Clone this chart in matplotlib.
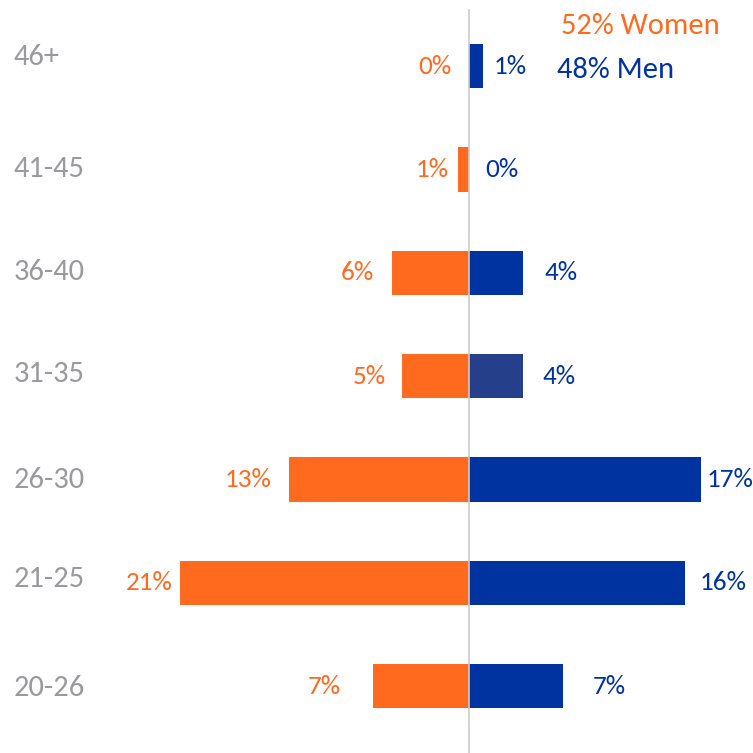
import matplotlib
matplotlib.use("Agg")
import matplotlib.pyplot as plt
import matplotlib.transforms as mtransforms

# age groups, bottom row first
age_groups = ["20-26", "21-25", "26-30", "31-35", "36-40", "41-45", "46+"]
women_pct = [7.0, 21.0, 13.1, 4.9, 5.6, 0.8, 0.0]
men_pct = [6.8, 15.7, 16.9, 3.9, 3.9, 0.0, 1.0]
legend_labels = ["52% Women", "48% Men"]

# label gaps from the bar ends (pixels), as placed in the original
women_gap = [32, 8, 17, 16, 18, 9, 17]
men_gap = [30, 15, 5, 20, 22, 16, 11]
label_dy = [-2, 4, -1, 2, 1, 0, 9]

ORANGE = "#FF6A1F"
BLUE = "#0033A0"
BLUE_ODD = "#253F8A"
GREY = "#9A9A9E"

plt.rcParams['font.family'] = ['Carlito', 'Lato', 'DejaVu Sans']

fig = plt.figure(figsize=(7.53, 7.53), dpi=100)
ax = fig.add_axes([0, 0, 1, 1])

ypos = list(range(len(age_groups)))
men_colors = [BLUE_ODD if g == "31-35" else BLUE for g in age_groups]

ax.barh(ypos, [-w for w in women_pct], height=0.43, color=ORANGE, zorder=2)
ax.barh(ypos, men_pct, height=0.43, color=men_colors, zorder=2)

# center line
ax.axvline(0, ymin=0, ymax=0.987, color="#CCCCCC", lw=1.2, zorder=3)

# value labels
for i, (y, w, m) in enumerate(zip(ypos, women_pct, men_pct)):
    ax.annotate(f"{w:.0f}%", (-w, y), xytext=(-women_gap[i], 0), textcoords="offset pixels",
                ha="right", va="center", color=ORANGE, fontsize=19.5)
    ax.annotate(f"{m:.0f}%", (m, y), xytext=(men_gap[i], 0), textcoords="offset pixels",
                ha="left", va="center", color=BLUE, fontsize=19.5)

# category labels on the left
for i, (y, g) in enumerate(zip(ypos, age_groups)):
    ax.annotate(g, (0.018, y), xycoords=("axes fraction", "data"),
                xytext=(0, label_dy[i]), textcoords="offset pixels",
                ha="left", va="center", color=GREY, fontsize=22)

# legend as plain text
ax.text(0.745, 0.966, legend_labels[0], transform=ax.transAxes, ha="left",
        va="center", color=ORANGE, fontsize=22)
ax.text(0.740, 0.907, legend_labels[1], transform=ax.transAxes, ha="left",
        va="center", color=BLUE, fontsize=22)

ax.set_xlim(-34.1, 20.65)
ax.set_ylim(-0.648, 6.64)
ax.axis("off")

fig.savefig("out.png", dpi=100, facecolor="white")
